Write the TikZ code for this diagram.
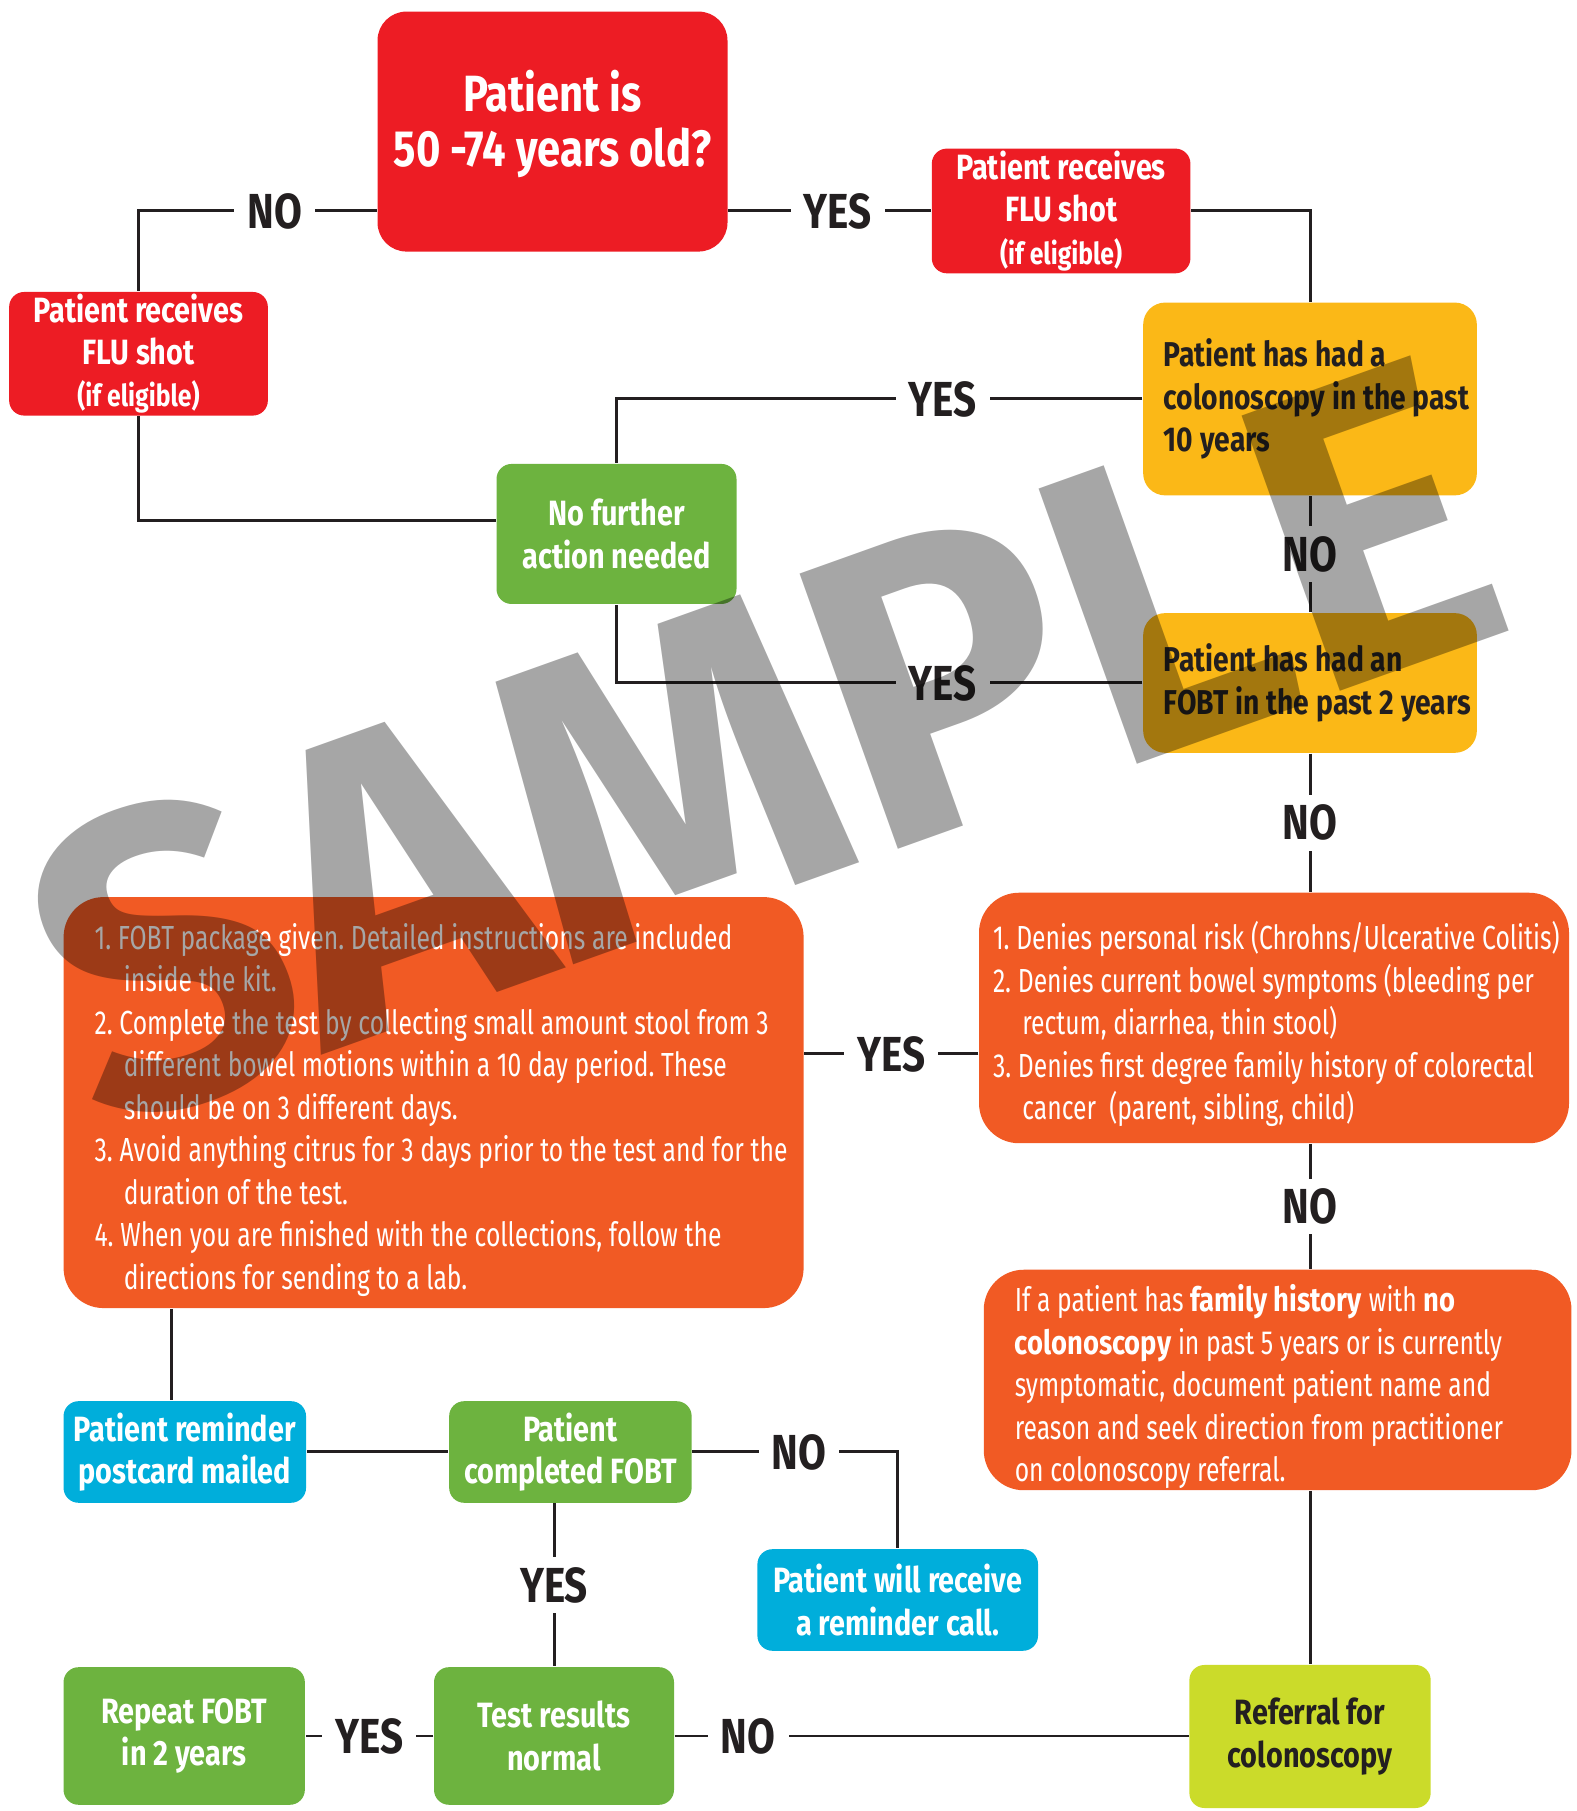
\documentclass[tikz,border=0pt]{standalone}
\usepackage{fontspec}
\setmainfont{Fira Sans}[UprightFeatures={FakeStretch=0.74},
BoldFeatures={FakeStretch=0.82}]
\newfontfamily\markfont{Fira Sans}
\frenchspacing
\definecolor{flured}{HTML}{ED1C24}
\definecolor{askyellow}{HTML}{FBB817}
\definecolor{okgreen}{HTML}{6DB33F}
\definecolor{kitorange}{HTML}{F15A24}
\definecolor{callblue}{HTML}{00AEDB}
\definecolor{referlime}{HTML}{CBDB2A}
\definecolor{ink}{HTML}{231F20}
\definecolor{markgray}{HTML}{A6A6A6}
\newcommand\numpad{\phantom{1.\ }\hspace{0.06cm}}
\newcommand\smallpar{\fontsize{8.6}{12}\selectfont}

\begin{document}
\begin{tikzpicture}
[
link/.style={draw=ink,line width=0.85pt},
answer/.style={fill=white,text=ink,inner xsep=0.13cm,inner ysep=0.1cm,
font=\bfseries\fontsize{14}{14}\selectfont},
padleft/.style={execute at begin node={\leftskip=#1\relax
\rightskip=-0.3cm plus 1fil\relax\spaceskip=0.2em\relax\hyphenpenalty=10000\relax}},
box/.style={inner sep=0pt,align=center,text=white,rounded corners=0.15cm,
font=\bfseries\fontsize{10}{12}\selectfont},
redbox/.style={box,fill=flured},
greenbox/.style={box,fill=okgreen},
bluebox/.style={box,fill=callblue},
yellowbox/.style={box,fill=askyellow,text=ink,align=left,rounded corners=0.22cm,
inner xsep=0pt,text width=3.337cm,minimum width=3.337cm,padleft=0.207cm,
font=\bfseries\fontsize{9.8}{12.1}\selectfont},
limebox/.style={box,fill=referlime,text=ink},
orangebox/.style={box,fill=kitorange,align=left,rounded corners=0.4cm,
inner xsep=0pt,font=\fontsize{9.5}{12.1}\selectfont,
execute at begin node={\rule{0pt}{11.6pt}}},
watermark/.style={text=markgray,inner sep=0pt,
font=\markfont\bfseries\fontsize{120}{120}\selectfont}
]
\useasboundingbox (0,0) rectangle (15.76,18.11);

\node[redbox,minimum width=3.50cm,minimum height=2.40cm,rounded corners=0.29cm,
font=\bfseries\fontsize{14.5}{15.4}\selectfont] (age) at (5.525,16.794)
{\raisebox{0.05cm}[\height][\depth]{\begin{tabular}{@{}c@{}}Patient is\\50 -74 years old?\end{tabular}}};
\node[redbox,minimum width=2.587cm,minimum height=1.236cm] (flu1) at (1.385,14.572)
{Patient receives\\FLU shot\\{\smallpar(if eligible)}};
\node[redbox,minimum width=2.586cm,minimum height=1.247cm] (flu2) at (10.611,16.0)
{Patient receives\\FLU shot\\{\smallpar(if eligible)}};
\node[greenbox,minimum width=2.40cm,minimum height=1.40cm] (none) at (6.165,12.77)
{No further\\action needed};
\node[yellowbox,minimum height=1.928cm] (colo) at (13.10,14.12)
{Patient has had a\\colonoscopy in the past\\10 years};
\node[yellowbox,minimum height=1.397cm] (fobt) at (13.10,11.28)
{Patient has had an\\FOBT in the past 2 years};
\node[orangebox,text width=5.90cm,minimum width=5.90cm,padleft=0.14cm,
minimum height=2.505cm] (deny) at (12.74,7.93)
{1. Denies personal risk (Chrohns/Ulcerative Colitis)\\
2. Denies current bowel symptoms (bleeding per\\
\numpad rectum, diarrhea, thin stool)\\
3. Denies first degree family history of colorectal\\
\numpad cancer~ (parent, sibling, child)};
\node[orangebox,text width=7.40cm,minimum width=7.40cm,padleft=0.31cm,
minimum height=4.11cm] (kit) at (4.336,7.084)
{1. FOBT package given. Detailed instructions are included\\
\numpad inside the kit.\\
2. Complete the test by collecting small amount stool from 3\\
\numpad different bowel motions within a 10 day period. These\\
\numpad should be on 3 different days.\\
3. Avoid anything citrus for 3 days prior to the test and for the\\
\numpad duration of the test.\\
4. When you are finished with the collections, follow the\\
\numpad directions for sending to a lab.};
\node[orangebox,text width=5.877cm,minimum width=5.877cm,padleft=0.31cm,
minimum height=2.205cm] (hist) at (12.776,4.31)
{If a patient has \textbf{family history} with \textbf{no}\\
\textbf{colonoscopy} in past 5 years or is currently\\
symptomatic, document patient name and\\
reason and seek direction from practitioner\\
on colonoscopy referral.};
\node[bluebox,minimum width=2.425cm,minimum height=1.016cm] (card) at (1.848,3.59)
{Patient reminder\\postcard mailed};
\node[greenbox,minimum width=2.425cm,minimum height=1.016cm] (done) at (5.704,3.59)
{Patient\\completed FOBT};
\node[bluebox,minimum width=2.806cm,minimum height=1.016cm] (call) at (8.977,2.11)
{Patient will receive\\a reminder call.};
\node[greenbox,minimum width=2.40cm,minimum height=1.376cm] (test) at (5.54,0.75)
{Test results\\normal};
\node[greenbox,minimum width=2.413cm,minimum height=1.376cm] (again) at (1.842,0.75)
{Repeat FOBT\\in 2 years};
\node[limebox,minimum width=2.413cm,minimum height=1.43cm] (refer) at (13.10,0.745)
{Referral for\\colonoscopy};

\draw[link] (age.west |- flu2) -| node[answer,pos=0.214]{NO} (flu1.north);
\draw[link] (age.east |- flu2) -- node[answer,pos=0.54]{YES} (flu2.west);
\draw[link] (flu2.east) -| (colo.north);
\draw[link] (colo.west) -| node[answer,pos=0.19]{YES} (none.north);
\draw[link] (fobt.west) -| node[answer,pos=0.19]{YES} (none.south);
\draw[link] (flu1.south) |- ([yshift=0.13cm]none.west);
\draw[link] (colo.south) -- node[answer]{NO} (fobt.north);
\draw[link] (fobt.south) -- node[answer]{NO} (fobt.south |- deny.north);
\path ([yshift=-0.36cm]deny.west) coordinate (dyes);
\draw[link] (dyes) -- node[answer]{YES} (dyes -| kit.east);
\draw[link] (deny.south -| colo.south) -- node[answer]{NO} (hist.north -| colo.south);
\draw[link] (hist.south -| colo.south) -- (refer.north);
\path ([xshift=-0.13cm]card.north) coordinate (cfoot);
\draw[link] (cfoot |- kit.south) -- (cfoot);
\draw[link] (card.east) -- (done.west);
\draw[link] (done.east) -| node[answer,pos=0.26]{NO} (call.north);
\draw[link] (test.north |- done.south) -- node[answer]{YES} (test.north);
\draw[link] (test.west) -- node[answer]{YES} (again.east);
\draw[link] (test.east) -- node[answer,pos=0.143]{NO} (test.east -| refer.west);

\begin{scope}[blend mode=multiply]
\node[watermark,rotate=19.65,anchor=base] (mark) at (8.12,9.31) {SAMPLE};
\end{scope}
\end{tikzpicture}
\end{document}
